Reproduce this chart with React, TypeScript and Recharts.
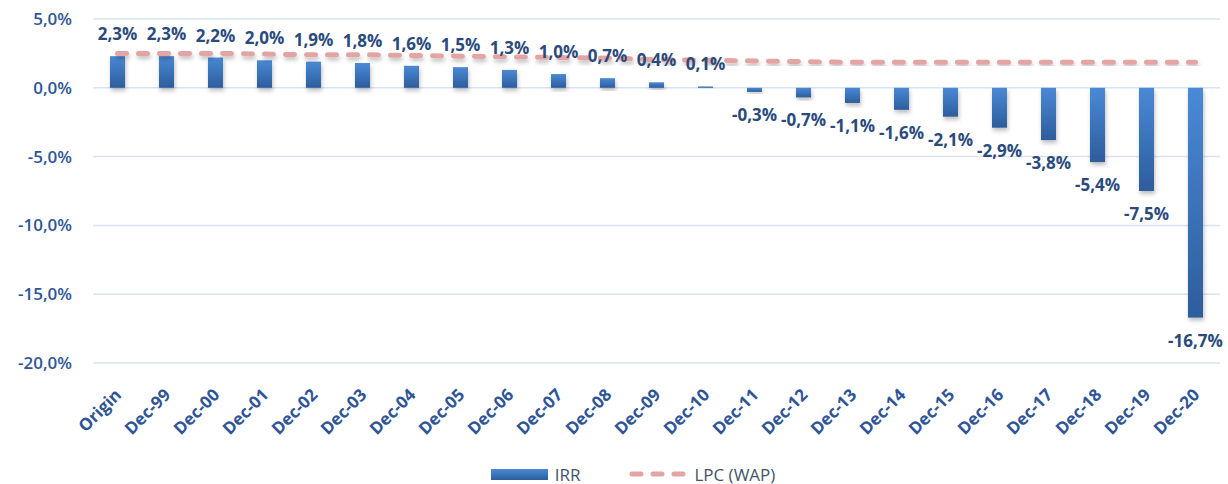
import {
  Bar,
  CartesianGrid,
  ComposedChart,
  LabelList,
  Legend,
  Line,
  XAxis,
  YAxis,
} from "recharts";

const CATEGORIES = [
  "Origin", "Dec-99", "Dec-00", "Dec-01", "Dec-02", "Dec-03", "Dec-04", "Dec-05",
  "Dec-06", "Dec-07", "Dec-08", "Dec-09", "Dec-10", "Dec-11", "Dec-12", "Dec-13",
  "Dec-14", "Dec-15", "Dec-16", "Dec-17", "Dec-18", "Dec-19", "Dec-20",
];

const IRR = [
  2.3, 2.3, 2.2, 2.0, 1.9, 1.8, 1.6, 1.5, 1.3, 1.0, 0.7, 0.4, 0.1,
  -0.3, -0.7, -1.1, -1.6, -2.1, -2.9, -3.8, -5.4, -7.5, -16.7,
];

const LPC = [
  2.5, 2.5, 2.5, 2.45, 2.4, 2.4, 2.35, 2.3, 2.25, 2.2, 2.15, 2.05, 2.0,
  1.95, 1.9, 1.85, 1.85, 1.85, 1.85, 1.85, 1.85, 1.85, 1.85,
];

const Y_TICKS = [5, 0, -5, -10, -15, -20];

const data = CATEGORIES.map((cat, i) => ({ cat, irr: IRR[i], lpc: LPC[i] }));

const FONT = "'Open Sans', sans-serif";
const LABEL_BLUE = "#2a4a7c";
const AXIS_BLUE = "#2f5597";
const BAR_LIGHT = "#4a89d6";
const BAR_DARK = "#2d5d9c";

const pct = (v: number) => `${v.toFixed(1).replace(".", ",")}%`;

const renderValue = (props: any) => {
  const { x, y, width, height, value } = props;
  const top = Math.min(y, y + height);
  const bottom = Math.max(y, y + height);
  const neg = value < 0;
  return (
    <text
      x={x + width / 2}
      y={neg ? bottom + 29 : top - 16}
      textAnchor="middle"
      fill={LABEL_BLUE}
      fontFamily={FONT}
      fontWeight={700}
      fontSize={17}
    >
      {pct(value)}
    </text>
  );
};

// each bar gets its own top->bottom gradient in user space, light at top, dark at bottom
const BarShape = (props: any) => {
  const { x, y, width, height, index } = props;
  const top = Math.min(y, y + height);
  const h = Math.abs(height);
  const id = `barGrad${index}`;
  return (
    <g>
      <defs>
        <linearGradient id={id} gradientUnits="userSpaceOnUse" x1={0} y1={top} x2={0} y2={top + h}>
          <stop offset="0%" stopColor={BAR_LIGHT} />
          <stop offset="100%" stopColor={BAR_DARK} />
        </linearGradient>
      </defs>
      <rect x={x} y={top} width={width} height={h} fill={`url(#${id})`} filter="url(#soft)" />
    </g>
  );
};

const XTick = (props: any) => {
  const { x, y, payload } = props;
  return (
    <g transform={`translate(${x + 5},${y + 33})`}>
      <text
        transform="rotate(-45)"
        textAnchor="end"
        fill={AXIS_BLUE}
        fontFamily={FONT}
        fontWeight={700}
        fontSize={17}
      >
        {payload.value}
      </text>
    </g>
  );
};

const LegendBox = () => (
  <div
    style={{
      display: "flex",
      justifyContent: "center",
      alignItems: "center",
      height: 20,
      paddingLeft: 46,
      fontFamily: FONT,
      fontSize: 17,
      color: "#44546a",
    }}
  >
    <svg width={57} height={11} style={{ marginRight: 7 }}>
      <defs>
        <linearGradient id="legGrad" x1="0" y1="0" x2="0" y2="1">
          <stop offset="0%" stopColor={BAR_LIGHT} />
          <stop offset="100%" stopColor={BAR_DARK} />
        </linearGradient>
      </defs>
      <rect width={57} height={11} fill="url(#legGrad)" />
    </svg>
    <span style={{ marginRight: 48 }}>IRR</span>
    <svg width={64} height={8} style={{ marginRight: 2 }}>
      <line
        x1={4}
        y1={4}
        x2={60}
        y2={4}
        stroke="#e3a5a4"
        strokeWidth={5}
        strokeDasharray="9 12"
        strokeLinecap="round"
      />
    </svg>
    <span>LPC (WAP)</span>
  </div>
);

export default function App() {
  return (
    <div style={{ position: "absolute", left: 0, top: 0, background: "#fff" }}>
      <ComposedChart
        width={1228}
        height={484}
        data={data}
        margin={{ top: 19, right: 8, bottom: 0, left: 0 }}
        barCategoryGap={0}
      >
        <defs>
          <filter id="soft" x="-30%" y="-30%" width="160%" height="160%">
            <feDropShadow dx="1" dy="3" stdDeviation="2" floodColor="#000" floodOpacity="0.25" />
          </filter>
        </defs>
        <CartesianGrid vertical={false} stroke="#d9e3f2" strokeWidth={1.5} />
        <XAxis
          dataKey="cat"
          interval={0}
          axisLine={false}
          tickLine={false}
          tickSize={0}
          tickMargin={0}
          height={101}
          tick={<XTick />}
        />
        <YAxis
          domain={[-20, 5]}
          ticks={Y_TICKS}
          width={93}
          axisLine={false}
          tickLine={false}
          tickSize={0}
          tickMargin={21}
          tickFormatter={pct}
          tick={{ fill: AXIS_BLUE, fontFamily: FONT, fontWeight: 600, fontSize: 17 }}
        />
        <Legend verticalAlign="bottom" height={20} content={() => <LegendBox />} />
        <Line
          dataKey="lpc"
          name="LPC (WAP)"
          type="linear"
          stroke="#e3a5a4"
          strokeWidth={5}
          strokeDasharray="9 12"
          strokeLinecap="round"
          dot={false}
          activeDot={false}
          filter="url(#soft)"
          isAnimationActive={false}
        />
        <Bar
          dataKey="irr"
          name="IRR"
          barSize={15}
          fill={BAR_DARK}
          shape={<BarShape />}
          isAnimationActive={false}
        >
          <LabelList dataKey="irr" content={renderValue} />
        </Bar>
      </ComposedChart>
    </div>
  );
}
